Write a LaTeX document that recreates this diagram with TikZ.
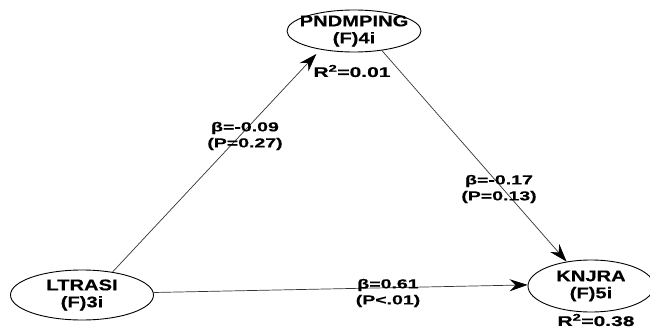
\documentclass[tikz,border=0pt]{standalone}
\usepackage{fontspec}
\setmainfont{Liberation Sans}
\newfontfamily\nodefont[FakeStretch=1.3,FakeBold=0.4]{Liberation Sans}
\newfontfamily\labfont[FakeStretch=1.5,FakeBold=0.4]{Liberation Sans}
\usetikzlibrary{shapes.geometric,arrows.meta}
\tikzset{
  ell/.style={ellipse, draw=black, line width=0.9pt, inner sep=0pt},
  ntext/.style={align=center, inner sep=0pt, font=\nodefont\bfseries\fontsize{15.5}{17}\selectfont},
  ltext/.style={align=center, inner sep=0pt, font=\labfont\bfseries\fontsize{13}{16}\selectfont},
  rtext/.style={inner sep=0pt, font=\labfont\bfseries\fontsize{14}{16}\selectfont},
  conn/.style={draw=black!80, line width=0.7pt, -{Stealth[length=18pt,width=12pt,inset=6pt,color=black]}},
}
\begin{document}
\begin{tikzpicture}[x=1pt,y=-1pt]
\useasboundingbox (0,0) rectangle (650,329);
\node[ell, minimum width=134pt, minimum height=42pt] (pn) at (354,31) {};
\node[ntext] (pnt) at (pn) {PNDMPING\\(F)4i};
\node[ell, minimum width=143pt, minimum height=50pt] (lt) at (82,295) {};
\node[ntext] (ltt) at (lt) {LTRASI\\(F)3i};
\node[ell, minimum width=126pt, minimum height=52pt] (kn) at (591,286) {};
\node[ntext] (knt) at (kn) {KNJRA\\(F)5i};
\draw[conn, shorten >=6pt] (lt.37) -- (pn.209);
\draw[conn] (pn.-35) -- (kn.135);
\draw[conn] (lt.2) -- (kn.179);
\node[ltext] (l1) at (245,136) {β=-0.09\\(P=0.27)};
\node[ltext] (l2) at (499,189) {β=-0.17\\(P=0.13)};
\node[ltext] (l3) at (388,293) {β=0.61\\(P<.01)};
\node[rtext] (r1) at (352,71) {R\textsuperscript{2}=0.01};
\node[rtext] (r2) at (596,320) {R\textsuperscript{2}=0.38};
\end{tikzpicture}
\end{document}
